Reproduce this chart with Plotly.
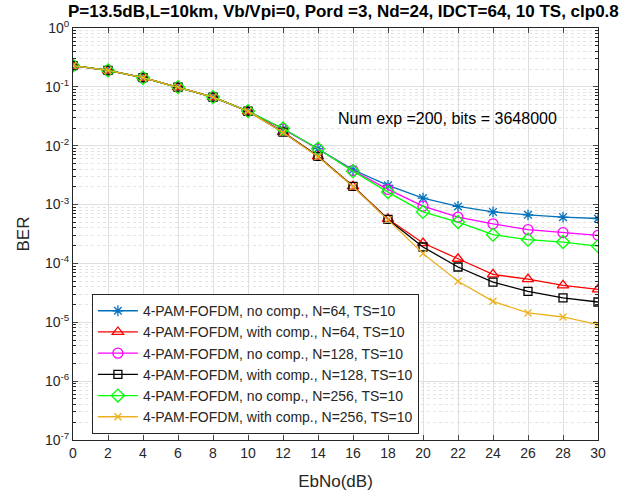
import plotly.graph_objects as go

ebno = [0, 2, 4, 6, 8, 10, 12, 14, 16, 18, 20, 22, 24, 26, 28, 30]

ber_nocomp_64 = [0.23, 0.19, 0.143, 0.099, 0.067, 0.0387, 0.0194, 0.0089, 0.0039, 0.00212,
                 0.00129, 0.00093, 0.00075, 0.00067, 0.00061, 0.00058]
ber_comp_64 = [0.23, 0.19, 0.143, 0.099, 0.067, 0.0385, 0.017, 0.0066, 0.00204, 0.00057,
               0.000222, 0.00012, 0.000065, 0.000054, 0.0000425, 0.0000363]
ber_nocomp_128 = [0.23, 0.19, 0.143, 0.099, 0.067, 0.0387, 0.0192, 0.0088, 0.0038, 0.00181,
                  0.00094, 0.00061, 0.00047, 0.000375, 0.000333, 0.0003]
ber_comp_128 = [0.23, 0.19, 0.143, 0.099, 0.067, 0.0385, 0.017, 0.0066, 0.00204, 0.00056,
                0.00019, 0.000087, 0.000048, 0.0000336, 0.0000259, 0.0000221]
ber_nocomp_256 = [0.23, 0.19, 0.143, 0.099, 0.067, 0.0387, 0.0196, 0.0089, 0.0037, 0.00163,
                  0.00075, 0.000505, 0.000308, 0.000253, 0.000231, 0.000197]
ber_comp_256 = [0.23, 0.19, 0.143, 0.099, 0.067, 0.0385, 0.0169, 0.0065, 0.00202, 0.00055,
                0.000147, 0.0000497, 0.0000227, 0.0000144, 0.0000123, 0.0000091]

names = [
    "4-PAM-FOFDM, no comp., N=64, TS=10",
    "4-PAM-FOFDM, with comp., N=64, TS=10",
    "4-PAM-FOFDM, no comp., N=128, TS=10",
    "4-PAM-FOFDM, with comp., N=128, TS=10",
    "4-PAM-FOFDM, no comp., N=256, TS=10",
    "4-PAM-FOFDM, with comp., N=256, TS=10",
]
series = [ber_nocomp_64, ber_comp_64, ber_nocomp_128, ber_comp_128, ber_nocomp_256, ber_comp_256]
colors = ["#0072BD", "#FF0000", "#FF00FF", "#000000", "#00FF00", "#EDB120"]
symbols = ["asterisk-open", "triangle-up-open", "circle-open", "square-open", "diamond-open", "x-thin-open"]
sizes = [9, 10, 10, 8, 10, 7]

ytickvals = [1e0, 1e-1, 1e-2, 1e-3, 1e-4, 1e-5, 1e-6, 1e-7]
yticktext = ["10<sup>0</sup>", "10<sup>-1</sup>", "10<sup>-2</sup>", "10<sup>-3</sup>",
             "10<sup>-4</sup>", "10<sup>-5</sup>", "10<sup>-6</sup>", "10<sup>-7</sup>"]
xtickvals = [0, 2, 4, 6, 8, 10, 12, 14, 16, 18, 20, 22, 24, 26, 28, 30]
xticktext = ["0", "2", "4", "6", "8", "10", "12", "14", "16", "18", "20", "22", "24", "26", "28", "30"]
annotation_text = "Num exp =200, bits = 3648000"
title_text = "P=13.5dB,L=10km, Vb/Vpi=0, Pord =3, Nd=24, IDCT=64, 10 TS, clp0.8"

fig = go.Figure()
for name, ys, c, s, sz in zip(names, series, colors, symbols, sizes):
    fig.add_trace(go.Scatter(
        x=ebno, y=ys, name=name, mode="lines+markers",
        line=dict(color=c, width=1.3),
        marker=dict(symbol=s, size=sz, color=c, line=dict(color=c, width=1.3)),
    ))

font_family = "Liberation Sans, Arial, sans-serif"
fig.update_layout(
    width=644, height=491,
    margin=dict(l=73, r=46, t=28, b=51, autoexpand=False),
    paper_bgcolor="white", plot_bgcolor="white",
    font=dict(family=font_family, color="#262626", size=14),
    title=dict(text="<b>" + title_text + "</b>",
               xref="paper", x=0.515, xanchor="center",
               yref="container", y=0.977, yanchor="middle",
               font=dict(size=17, color="black")),
    showlegend=True,
    legend=dict(x=0.036, y=0.354, xanchor="left", yanchor="top",
                bgcolor="white", bordercolor="#262626", borderwidth=1,
                font=dict(size=14, color="#262626"), tracegroupgap=0,
                itemwidth=40),
    xaxis=dict(
        range=[0, 30], tickvals=xtickvals, ticktext=xticktext, ticks="inside", ticklen=5,
        showline=True, linecolor="#262626", linewidth=1, mirror="ticks",
        showgrid=True, gridcolor="#DFDFDF", gridwidth=1, zeroline=False,
        automargin=False,
        title=dict(text="EbNo(dB)", font=dict(size=17), standoff=20),
        tickfont=dict(size=14),
    ),
    yaxis=dict(
        type="log", range=[-7, 0], tickvals=ytickvals, ticktext=yticktext,
        ticks="inside", ticklen=5,
        showline=True, linecolor="#262626", linewidth=1, mirror="ticks",
        showgrid=True, gridcolor="#DFDFDF", gridwidth=1, zeroline=False,
        automargin=False,
        title=dict(text="BER", font=dict(size=17), standoff=10),
        tickfont=dict(size=14),
        minor=dict(ticks="inside", ticklen=3, showgrid=True, gridcolor="#E4E4E4",
                   griddash="dot", gridwidth=1, tickcolor="#262626",
                   tickvals=[m * 10.0 ** e for e in range(-7, 0) for m in range(2, 10)]),
    ),
    annotations=[dict(text=annotation_text, x=(447 - 73) / 525, y=-(118 - 27.5) / 58.9,
                      xref="paper", yref="y", xanchor="center", yanchor="middle",
                      showarrow=False, font=dict(size=16, color="black"))],
)

fig.write_html("out.html", config={"displayModeBar": False},
               post_script="document.body.style.margin='0';")
